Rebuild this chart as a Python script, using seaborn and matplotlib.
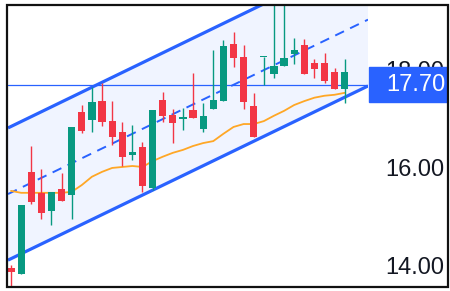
"""Candlestick chart with a parallel channel and moving average."""

import matplotlib

matplotlib.use("Agg")
import matplotlib.pyplot as plt
import matplotlib.transforms as mtransforms
import numpy as np
import pandas as pd
import seaborn as sns
from matplotlib.patches import Rectangle

# OHLC per bar
opens = [13.94, 13.82, 15.91, 15.48, 15.11, 15.56, 15.44, 17.14, 16.97, 17.36,
         16.95, 16.73, 16.26, 16.42, 15.58, 17.38, 17.08, 16.99, 17.18, 16.79,
         17.20, 17.36, 18.53, 18.27, 17.26, 18.26, 17.92, 18.08, 18.33, 18.51,
         18.14, 18.14, 17.96, 17.61]
highs = [14.00, 15.23, 16.44, 15.97, 15.50, 15.89, 16.83, 17.28, 17.65, 17.73,
         17.36, 16.93, 16.87, 16.52, 17.18, 17.55, 17.20, 17.22, 17.94, 17.32,
         18.41, 18.62, 18.78, 18.51, 17.53, 18.27, 19.54, 19.54, 18.66, 18.64,
         18.23, 18.35, 18.04, 18.23]
lows = [13.49, 13.82, 15.25, 14.94, 14.82, 15.31, 14.94, 16.71, 16.73, 16.85,
        16.46, 16.03, 16.15, 15.50, 15.54, 16.93, 16.50, 16.77, 17.02, 16.73,
        17.20, 17.36, 18.06, 17.20, 16.63, 17.69, 17.84, 18.08, 18.12, 17.92,
        17.84, 17.73, 17.61, 17.32]
closes = [13.86, 15.23, 15.29, 15.07, 15.50, 15.31, 16.83, 16.75, 17.34, 16.93,
          16.63, 16.22, 16.32, 15.62, 17.18, 17.06, 16.91, 17.04, 17.02, 17.06,
          17.38, 18.49, 18.25, 17.34, 16.63, 18.27, 18.08, 18.25, 18.41, 17.92,
          18.02, 17.77, 17.61, 17.96]
ma_values = [15.52, 15.48, 15.48, 15.48, 15.48, 15.48, 15.50, 15.64, 15.81, 15.91,
             15.99, 16.01, 16.03, 16.01, 16.13, 16.22, 16.30, 16.36, 16.44, 16.50,
             16.54, 16.69, 16.83, 16.89, 16.89, 16.95, 17.06, 17.16, 17.28, 17.36,
             17.43, 17.47, 17.49, 17.53]

# channel: bar index where it starts / ends, and price of each line there
channel_x = [-0.3, 35.3]
channel_upper = [16.81, 20.39]
channel_lower = [14.10, 17.67]
last_price = 17.70
y_ticks = [14.00, 16.00, 18.00]

UP = "#089981"
DOWN = "#F23645"
BLUE = "#2962FF"

sns.set_theme(style="white")
plt.rcParams["font.family"] = ["Liberation Sans", "DejaVu Sans"]

W, H = 450, 291
fig = plt.figure(figsize=(W / 100, H / 100), dpi=100)
fig.patch.set_facecolor("white")
ax = fig.add_axes([8 / W, 1 - 286 / H, 360 / W, 281 / H])

frame = pd.DataFrame({"o": opens, "h": highs, "l": lows, "c": closes, "ma": ma_values})
frame["x"] = np.arange(len(frame))
up = frame["c"] >= frame["o"]
colors = np.where(up, UP, DOWN)

# channel fill and lines
cx = np.array(channel_x)
cu = np.array(channel_upper)
cl = np.array(channel_lower)
ax.fill_between(cx, cl, cu, color=BLUE, alpha=0.065, lw=0, zorder=0)
ax.plot(cx, cu, color=BLUE, lw=2.3, solid_capstyle="butt", zorder=1)
ax.plot(cx, cl, color=BLUE, lw=2.3, solid_capstyle="butt", zorder=1)
ax.plot(cx, (cu + cl) / 2, color=BLUE, lw=1.4, ls=(0, (5, 3.5)), zorder=1)

ax.axhline(last_price, color=BLUE, lw=0.9, zorder=1)

# moving average
sns.lineplot(data=frame, x="x", y="ma", color="#FFA726", lw=1.3, ax=ax, zorder=2)

# candles
ax.vlines(frame["x"], frame["l"], frame["h"], colors=colors, lw=1.0, zorder=3)
body_low = np.minimum(frame["o"], frame["c"])
body_h = np.maximum((frame["o"] - frame["c"]).abs(), 0.02)
ax.bar(frame["x"], body_h, bottom=body_low, width=0.72, color=colors, lw=0, zorder=4)

ax.set_xlim(channel_x)
ax.set_ylim(13.57, 19.33)
ax.set_xlabel("")
ax.set_ylabel("")
ax.set_xticks([])
for s in ax.spines.values():
    s.set_visible(False)

ax.yaxis.tick_right()
ax.set_yticks(y_ticks)
ax.set_yticklabels([f"{v:.2f}" for v in y_ticks])
ax.tick_params(axis="y", length=0, pad=12.5, labelsize=17, labelcolor="#131722")

# last price tag
trans = mtransforms.blended_transform_factory(ax.transAxes, ax.transData)
ax.add_patch(Rectangle((1.003, last_price - 0.36), 0.216, 0.72, transform=trans,
                       color=BLUE, clip_on=False, zorder=5))
ax.text(1.05, last_price, f"{last_price:.2f}", transform=trans, ha="left",
        va="center", color="white", fontsize=17, zorder=6, clip_on=False)

# outer frame
fig.patches.append(Rectangle((7 / W, 1 - 286.5 / H), 441 / W, 281.5 / H,
                             transform=fig.transFigure, fill=False,
                             ec="#111111", lw=1.6))

fig.savefig("out.png", dpi=100)
